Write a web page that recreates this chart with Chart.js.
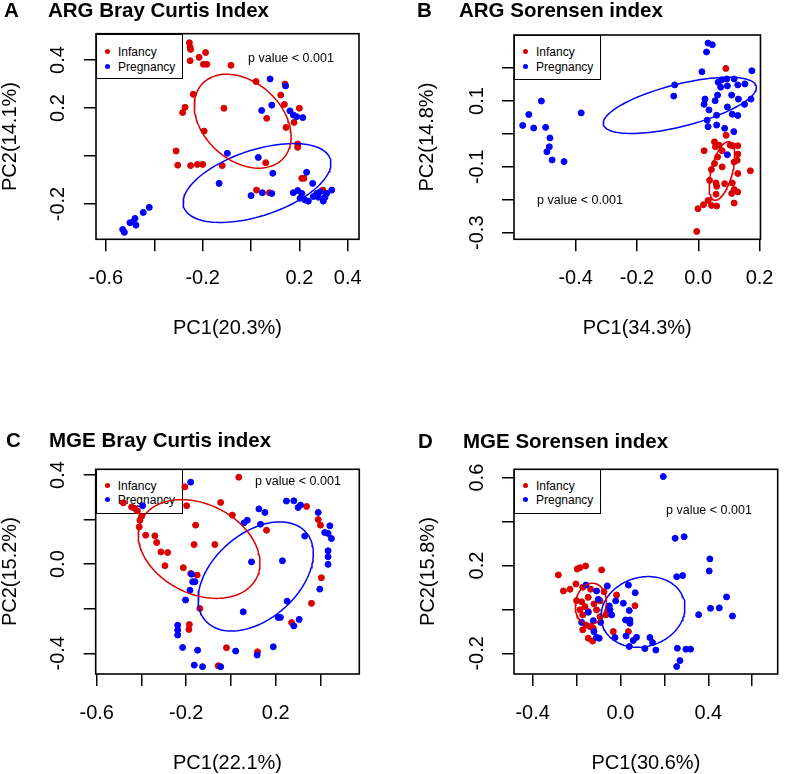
<!DOCTYPE html>
<html>
<head>
<meta charset="utf-8">
<script src="https://cdn.jsdelivr.net/npm/chart.js@4.4.1/dist/chart.umd.min.js"></script>
<style>
body { margin: 0; background: #fff; }
#fig { position: relative; width: 791px; height: 774px; overflow: hidden; font-family: "Liberation Sans", Arial, sans-serif; color: #000; background: #fff; }
#fig canvas { position: absolute; z-index: 2; }
.t { position: absolute; white-space: nowrap; line-height: 1; z-index: 3; }
.ttl { font-size: 20.5px; font-weight: bold; }
.pv { font-size: 12.5px; }
.legend { position: absolute; width: 87px; height: 45px; border: 1.3px solid #000; box-sizing: border-box; z-index: 1; }
.legend .dot { position: absolute; left: 8px; width: 5px; height: 5px; border-radius: 50%; }
.legend .lab { position: absolute; left: 21px; font-size: 12px; line-height: 1; white-space: nowrap; }
</style>
</head>
<body>
<div id="fig">
  <!-- panel titles -->
  <div class="t ttl" style="left:4px;top:0px">A</div>
  <div class="t ttl" style="left:48px;top:0px">ARG Bray Curtis Index</div>
  <div class="t ttl" style="left:417px;top:0px">B</div>
  <div class="t ttl" style="left:459px;top:0px">ARG Sorensen index</div>
  <div class="t ttl" style="left:6px;top:430px">C</div>
  <div class="t ttl" style="left:49px;top:430px">MGE Bray Curtis index</div>
  <div class="t ttl" style="left:418px;top:431px">D</div>
  <div class="t ttl" style="left:463px;top:431px">MGE Sorensen index</div>

  <!-- p values -->
  <div class="t pv" style="left:248px;top:51.5px">p value &lt; 0.001</div>
  <div class="t pv" style="left:537px;top:194px">p value &lt; 0.001</div>
  <div class="t pv" style="left:255px;top:475px">p value &lt; 0.001</div>
  <div class="t pv" style="left:666px;top:504px">p value &lt; 0.001</div>

  <!-- legends -->
  <div class="legend" style="left:96px;top:33.7px">
    <div class="dot" style="top:14px;background:#DA0000"></div><div class="lab" style="top:11px">Infancy</div>
    <div class="dot" style="top:29px;background:#0000FF"></div><div class="lab" style="top:26px">Pregnancy</div>
  </div>
  <div class="legend" style="left:514px;top:35px">
    <div class="dot" style="top:13px;background:#DA0000"></div><div class="lab" style="top:10px">Infancy</div>
    <div class="dot" style="top:28px;background:#0000FF"></div><div class="lab" style="top:25px">Pregnancy</div>
  </div>
  <div class="legend" style="left:95.7px;top:469.3px">
    <div class="dot" style="top:12.5px;background:#DA0000"></div><div class="lab" style="top:9.5px">Infancy</div>
    <div class="dot" style="top:27px;background:#0000FF"></div><div class="lab" style="top:24px">Pregnancy</div>
  </div>
  <div class="legend" style="left:514px;top:469.3px">
    <div class="dot" style="top:12.5px;background:#DA0000"></div><div class="lab" style="top:9.5px">Infancy</div>
    <div class="dot" style="top:27px;background:#0000FF"></div><div class="lab" style="top:24px">Pregnancy</div>
  </div>

  <canvas id="chartA" width="395" height="387" style="left:0;top:0"></canvas>
  <canvas id="chartB" width="395" height="387" style="left:396px;top:0"></canvas>
  <canvas id="chartC" width="395" height="387" style="left:0;top:387px"></canvas>
  <canvas id="chartD" width="395" height="387" style="left:396px;top:387px"></canvas>
</div>

<script>
// ---- A: ARG Bray Curtis ----
const argBrayInfancy = [
  [-0.255,0.472],[-0.252,0.453],[-0.250,0.444],[-0.252,0.397],[-0.188,0.431],[-0.215,0.411],
  [-0.197,0.382],[-0.183,0.382],[-0.083,0.378],[0.021,0.310],[0.141,0.300],[-0.239,0.257],
  [-0.273,0.203],[-0.283,0.181],[-0.112,0.199],[0.123,0.254],[0.138,0.215],[0.065,0.157],
  [0.200,0.199],[0.178,0.140],[0.145,0.119],[-0.194,0.104],[0.193,0.050],[0.193,0.036],
  [-0.310,0.021],[-0.303,-0.038],[-0.250,-0.040],[-0.222,-0.035],[-0.200,-0.035],[-0.119,-0.040],
  [0.061,-0.028],[0.210,-0.093],[0.219,-0.093],[0.023,-0.142],[0.076,-0.153],[0.297,-0.142]
];
const argBrayPregnancy = [
  [0.079,0.321],[0.143,0.292],[0.044,0.190],[0.086,0.212],[0.161,0.188],[0.175,0.171],
  [0.189,0.164],[0.214,0.160],[-0.098,0.011],[0.030,-0.006],[0.090,-0.072],[0.230,-0.068],
  [0.255,-0.114],[-0.132,-0.114],[0.000,-0.165],[0.047,-0.153],[0.086,-0.156],[0.175,-0.153],
  [0.193,-0.144],[0.210,-0.156],[0.203,-0.176],[0.223,-0.183],[0.237,-0.188],[0.258,-0.169],
  [0.272,-0.156],[0.279,-0.172],[0.299,-0.188],[0.306,-0.172],[0.313,-0.156],[0.334,-0.142],
  [0.286,-0.149],[-0.421,-0.214],[-0.446,-0.235],[-0.480,-0.260],[-0.487,-0.274],[-0.501,-0.278],
  [-0.476,-0.288],[-0.531,-0.306],[-0.524,-0.318]
];
// ellipse: [centre x, centre y, semi-axis a, semi-axis b, angle deg]
const argBrayEllInfancy = [-0.0345, 0.1451, 0.2285, 0.162, -42.9];
const argBrayEllPregnancy = [0.0248, -0.1125, 0.319, 0.137, 18.4];
const argBrayXTicks = [-0.6, -0.4, -0.2, 0, 0.2, 0.4];
const argBrayXLabels = ['-0.6', '', '-0.2', '', '0.2', '0.4'];
const argBrayYTicks = [-0.2, 0, 0.2, 0.4];
const argBrayYLabels = ['-0.2', '', '0.2', '0.4'];

// ---- B: ARG Sorensen ----
const argSorInfancy = [
  [0.090,0.199],[0.091,-0.004],[0.053,-0.024],[0.056,-0.039],[0.068,-0.034],[0.104,-0.034],
  [0.114,-0.036],[0.129,-0.036],[0.019,-0.051],[0.078,-0.051],[0.129,-0.061],[0.127,-0.080],
  [0.063,-0.070],[0.117,-0.085],[0.053,-0.090],[0.043,-0.108],[0.170,-0.112],[0.129,-0.120],
  [0.037,-0.141],[0.058,-0.149],[0.086,-0.151],[0.060,-0.159],[0.111,-0.149],[0.117,-0.169],
  [0.129,-0.176],[0.109,-0.181],[0.058,-0.183],[0.032,-0.202],[0.017,-0.215],[0.043,-0.217],
  [0.060,-0.219],[-0.001,-0.227],[0.117,-0.210],[-0.005,-0.296],[0.078,-0.100]
];
const argSorPregnancy = [
  [0.032,0.276],[0.046,0.271],[0.027,0.249],[0.012,0.189],[0.175,0.192],[-0.077,0.149],
  [-0.080,0.115],[0.065,0.157],[0.076,0.164],[0.073,0.142],[0.095,0.146],[0.117,0.167],
  [0.129,0.149],[0.152,0.152],[0.093,0.167],[0.063,0.118],[0.109,0.118],[0.131,0.106],
  [0.172,0.106],[0.151,0.090],[0.022,0.106],[0.019,0.090],[0.035,0.073],[0.055,0.101],
  [0.095,0.082],[0.029,0.042],[0.060,0.057],[0.111,0.060],[0.129,0.056],[0.032,0.022],
  [0.060,0.027],[0.086,0.017],[0.116,0.007],[0.095,-0.063],[-0.512,0.100],[-0.553,0.059],
  [-0.573,0.026],[-0.537,0.018],[-0.498,0.020],[-0.382,0.064],[-0.484,-0.012],[-0.486,-0.039],
  [-0.494,-0.054],[-0.477,-0.079],[-0.438,-0.084]
];
const argSorEllInfancy = [0.0771, -0.1122, 0.0919, 0.0347, 74.2];
const argSorEllPregnancy = [-0.0602, 0.0868, 0.256, 0.0644, 13.05];
const argSorXTicks = [-0.4, -0.2, 0, 0.2];
const argSorXLabels = ['-0.4', '-0.2', '0.0', '0.2'];
const argSorYTicks = [-0.3, -0.2, -0.1, 0, 0.1, 0.2];
const argSorYLabels = ['-0.3', '', '-0.1', '', '0.1', ''];

// ---- C: MGE Bray Curtis ----
const mgeBrayInfancy = [
  [0.035,0.390],[-0.206,0.347],[-0.481,0.275],[-0.444,0.256],[-0.429,0.250],[-0.418,0.239],
  [-0.399,0.215],[-0.407,0.197],[-0.410,0.167],[-0.381,0.130],[-0.340,0.127],[-0.332,0.097],
  [-0.313,0.055],[-0.283,0.052],[-0.295,-0.007],[-0.213,-0.016],[-0.198,0.262],[-0.046,0.277],
  [0.006,0.220],[-0.158,0.175],[-0.165,0.088],[-0.072,0.088],[0.159,0.152],[-0.180,-0.042],
  [-0.151,-0.049],[-0.139,-0.199],[-0.186,-0.271],[-0.188,-0.293],[-0.020,-0.375],[0.119,-0.393],
  [-0.057,-0.456],[0.271,-0.262],[0.360,-0.176],[0.404,-0.061],[0.338,0.259],[0.390,0.200],
  [0.400,0.175]
];
const mgeBrayPregnancy = [
  [-0.180,0.368],[-0.395,0.262],[0.248,0.283],[0.281,0.284],[0.300,0.254],[0.311,0.265],
  [0.125,0.248],[0.152,0.232],[0.073,0.197],[0.058,0.185],[0.132,0.179],[0.390,0.232],
  [0.442,0.172],[0.419,0.142],[0.434,0.138],[0.449,0.115],[0.330,0.126],[0.434,0.060],
  [0.434,0.033],[0.434,-0.001],[0.230,0.015],[0.092,0.010],[-0.176,-0.045],[-0.171,-0.079],
  [-0.161,-0.079],[-0.183,-0.117],[-0.203,-0.161],[0.251,-0.166],[0.397,-0.112],[0.055,-0.214],
  [0.211,-0.239],[0.221,-0.239],[0.305,-0.248],[0.281,-0.277],[-0.238,-0.274],[-0.238,-0.296],
  [-0.238,-0.318],[-0.216,-0.374],[-0.149,-0.386],[-0.164,-0.453],[-0.127,-0.460],[-0.046,-0.460],
  [0.021,-0.390],[0.117,-0.408],[0.189,-0.371]
];
const mgeBrayEllInfancy = [-0.1424, 0.068, 0.288, 0.2006, -27.1];
const mgeBrayEllPregnancy = [0.1106, -0.0553, 0.2997, 0.191, 41.6];
const mgeBrayXTicks = [-0.6, -0.4, -0.2, 0, 0.2, 0.4];
const mgeBrayXLabels = ['-0.6', '', '-0.2', '', '0.2', ''];
const mgeBrayYTicks = [-0.4, -0.2, 0, 0.2, 0.4];
const mgeBrayYLabels = ['-0.4', '', '0.0', '', '0.4'];

// ---- D: MGE Sorensen ----
const mgeSorInfancy = [
  [-0.283,0.157],[-0.260,0.084],[-0.230,0.092],[-0.203,0.116],[-0.197,0.184],[-0.185,0.190],
  [-0.159,0.198],[-0.086,0.180],[-0.200,0.040],[-0.177,0.035],[-0.162,0.013],[-0.185,-0.002],
  [-0.172,-0.025],[-0.147,-0.010],[-0.121,0.025],[-0.093,0.039],[-0.075,0.081],[-0.172,0.101],
  [-0.136,0.092],[-0.147,0.055],[-0.109,-0.002],[-0.093,-0.033],[-0.066,-0.025],[-0.055,-0.002],
  [-0.018,0.066],[0.066,0.017],[-0.172,-0.093],[-0.157,-0.071],[-0.147,-0.131],[-0.127,-0.144],
  [-0.033,-0.101],[0.036,-0.101],[-0.124,-0.086],[-0.139,-0.078]
];
const mgeSorPregnancy = [
  [0.195,0.605],[0.249,0.324],[0.290,0.331],[0.407,0.230],[0.404,0.175],[0.256,0.149],
  [0.283,0.154],[0.483,0.057],[0.410,0.005],[0.450,0.007],[0.510,-0.030],[0.356,-0.024],
  [0.259,-0.177],[0.298,-0.181],[0.319,-0.181],[0.271,-0.233],[0.256,-0.260],[0.036,0.111],
  [0.067,0.076],[0.040,-0.005],[0.013,0.028],[-0.022,0.039],[0.023,-0.048],[0.043,-0.048],
  [0.043,-0.063],[0.025,-0.121],[0.073,-0.127],[0.058,-0.142],[0.040,-0.169],[0.111,-0.178],
  [0.134,-0.128],[0.146,-0.151],[0.161,-0.185],[-0.025,-0.128],[-0.157,0.111],[-0.109,0.084],
  [-0.101,0.046],[-0.060,0.107],[-0.051,0.016],[-0.048,-0.002],[-0.147,-0.013],[-0.177,-0.059],
  [-0.124,-0.051],[-0.090,-0.059],[-0.121,-0.101],[-0.109,-0.127],[-0.097,-0.131],[-0.040,-0.025]
];
const mgeSorEllInfancy = [-0.135, 0.025, 0.095, 0.07, 80];
const mgeSorEllPregnancy = [0.1023, -0.0115, 0.1945, 0.157, 18.1];
const mgeSorXTicks = [-0.4, -0.2, 0, 0.2, 0.4, 0.6];
const mgeSorXLabels = ['-0.4', '', '0.0', '', '0.4', ''];
const mgeSorYTicks = [-0.2, 0, 0.2, 0.4, 0.6];
const mgeSorYLabels = ['-0.2', '', '0.2', '', '0.6'];

const RED = '#DA0000';
const BLUE = '#0000FF';

Chart.defaults.font.family = '"Liberation Sans", Arial, Helvetica, sans-serif';
Chart.defaults.color = '#000';

function toXY(arr) {
  return arr.map(p => ({x: p[0], y: p[1]}));
}

// outline of an ellipse from its centre, semi-axes and rotation
function ellipsePoints(e) {
  const [cx, cy, a, b, deg] = e;
  const th = deg * Math.PI / 180;
  let pts = [];
  for (let i = 0; i <= 120; i++) {
    const t = 2 * Math.PI * i / 120;
    pts.push({
      x: cx + a * Math.cos(t) * Math.cos(th) - b * Math.sin(t) * Math.sin(th),
      y: cy + a * Math.cos(t) * Math.sin(th) + b * Math.sin(t) * Math.cos(th)
    });
  }
  return pts;
}

// plot frame like R's box()
const boxPlugin = {
  id: 'rbox',
  afterDraw(chart) {
    const a = chart.chartArea, ctx = chart.ctx;
    ctx.save();
    ctx.strokeStyle = '#000';
    ctx.lineWidth = 1.6;
    ctx.strokeRect(a.left, a.top, a.right - a.left, a.bottom - a.top);
    ctx.restore();
  }
};

function makePanel(id, p) {
  const W = 395, H = 387;
  const tickFont = {size: 20, lineHeight: 1};
  const grid = {display: true, drawOnChartArea: false, drawTicks: true, tickLength: 12, color: '#000', lineWidth: 1.5};

  new Chart(document.getElementById(id), {
    type: 'scatter',
    data: {
      datasets: [
        {data: ellipsePoints(p.ellInf), showLine: true, pointRadius: 0, borderColor: RED, borderWidth: 1.5, fill: false, tension: 0, clip: false, order: 0},
        {data: ellipsePoints(p.ellPreg), showLine: true, pointRadius: 0, borderColor: BLUE, borderWidth: 1.5, fill: false, tension: 0, clip: false, order: 0},
        {data: toXY(p.preg), pointRadius: 3, pointBorderWidth: 1, backgroundColor: BLUE, borderColor: BLUE, clip: false, order: 1},
        {data: toXY(p.inf), pointRadius: 3, pointBorderWidth: 1, backgroundColor: RED, borderColor: RED, clip: false, order: 2}
      ]
    },
    options: {
      responsive: false,
      animation: false,
      events: [],
      layout: {padding: {left: 0, top: p.area.t, right: W - p.area.r, bottom: 0}},
      plugins: {legend: {display: false}, tooltip: {enabled: false}},
      scales: {
        x: {
          type: 'linear', min: p.xMin, max: p.xMax,
          afterBuildTicks: s => { s.ticks = p.xTicks.map(v => ({value: v})); },
          afterFit: s => { s.height = H - p.area.b; },
          ticks: {callback: (v, i) => p.xLabels[i], autoSkip: false, maxRotation: 0, minRotation: 0, padding: 17.5, font: tickFont, color: '#000'},
          grid: grid,
          border: {display: false},
          title: {display: true, text: p.xTitle, font: {size: 20, lineHeight: 1}, color: '#000', padding: {top: 0, bottom: p.xTitlePad}}
        },
        y: {
          type: 'linear', min: p.yMin, max: p.yMax,
          afterBuildTicks: s => { s.ticks = p.yTicks.map(v => ({value: v})); },
          afterFit: s => { s.width = p.area.l; },
          ticks: {callback: (v, i) => p.yLabels[i], autoSkip: false, minRotation: 90, maxRotation: 90, crossAlign: 'center', padding: p.yTickPad, font: tickFont, color: '#000'},
          grid: grid,
          border: {display: false},
          title: {display: true, text: p.yTitle, font: {size: 20, lineHeight: 1}, color: '#000', padding: {top: p.yTitlePad, bottom: 0}}
        }
      }
    },
    plugins: [boxPlugin]
  });
}

makePanel('chartA', {
  inf: argBrayInfancy, preg: argBrayPregnancy, ellInf: argBrayEllInfancy, ellPreg: argBrayEllPregnancy,
  xTicks: argBrayXTicks, xLabels: argBrayXLabels, yTicks: argBrayYTicks, yLabels: argBrayYLabels,
  xMin: -0.6414, xMax: 0.4468, yMin: -0.347, yMax: 0.5096,
  xTitle: 'PC1(20.3%)', yTitle: 'PC2(14.1%)',
  area: {l: 96, t: 33.7, r: 359, b: 239.3}, yTickPad: 8, yTitlePad: 0.5, xTitlePad: 49
});
makePanel('chartB', {
  inf: argSorInfancy, preg: argSorPregnancy, ellInf: argSorEllInfancy, ellPreg: argSorEllPregnancy,
  xTicks: argSorXTicks, xLabels: argSorXLabels, yTicks: argSorYTicks, yLabels: argSorYLabels,
  xMin: -0.6013, xMax: 0.203, yMin: -0.320, yMax: 0.3006,
  xTitle: 'PC1(34.3%)', yTitle: 'PC2(14.8%)',
  area: {l: 118, t: 35, r: 381.7, b: 239.3}, yTickPad: 7, yTitlePad: 21.3, xTitlePad: 49
});
makePanel('chartC', {
  inf: mgeBrayInfancy, preg: mgeBrayPregnancy, ellInf: mgeBrayEllInfancy, ellPreg: mgeBrayEllPregnancy,
  xTicks: mgeBrayXTicks, xLabels: mgeBrayXLabels, yTicks: mgeBrayYTicks, yLabels: mgeBrayYLabels,
  xMin: -0.6045, xMax: 0.5736, yMin: -0.4929, yMax: 0.4256,
  xTitle: 'PC1(22.1%)', yTitle: 'PC2(15.2%)',
  area: {l: 95.7, t: 82.3, r: 359.3, b: 287}, yTickPad: 8, yTitlePad: 0, xTitlePad: 1
});
makePanel('chartD', {
  inf: mgeSorInfancy, preg: mgeSorPregnancy, ellInf: mgeSorEllInfancy, ellPreg: mgeSorEllPregnancy,
  xTicks: mgeSorXTicks, xLabels: mgeSorXLabels, yTicks: mgeSorYTicks, yLabels: mgeSorYLabels,
  xMin: -0.485, xMax: 0.716, yMin: -0.294, yMax: 0.638,
  xTitle: 'PC1(30.6%)', yTitle: 'PC2(15.8%)',
  area: {l: 118, t: 82.3, r: 381.7, b: 287}, yTickPad: 7, yTitlePad: 22, xTitlePad: 1
});
</script>
</body>
</html>
